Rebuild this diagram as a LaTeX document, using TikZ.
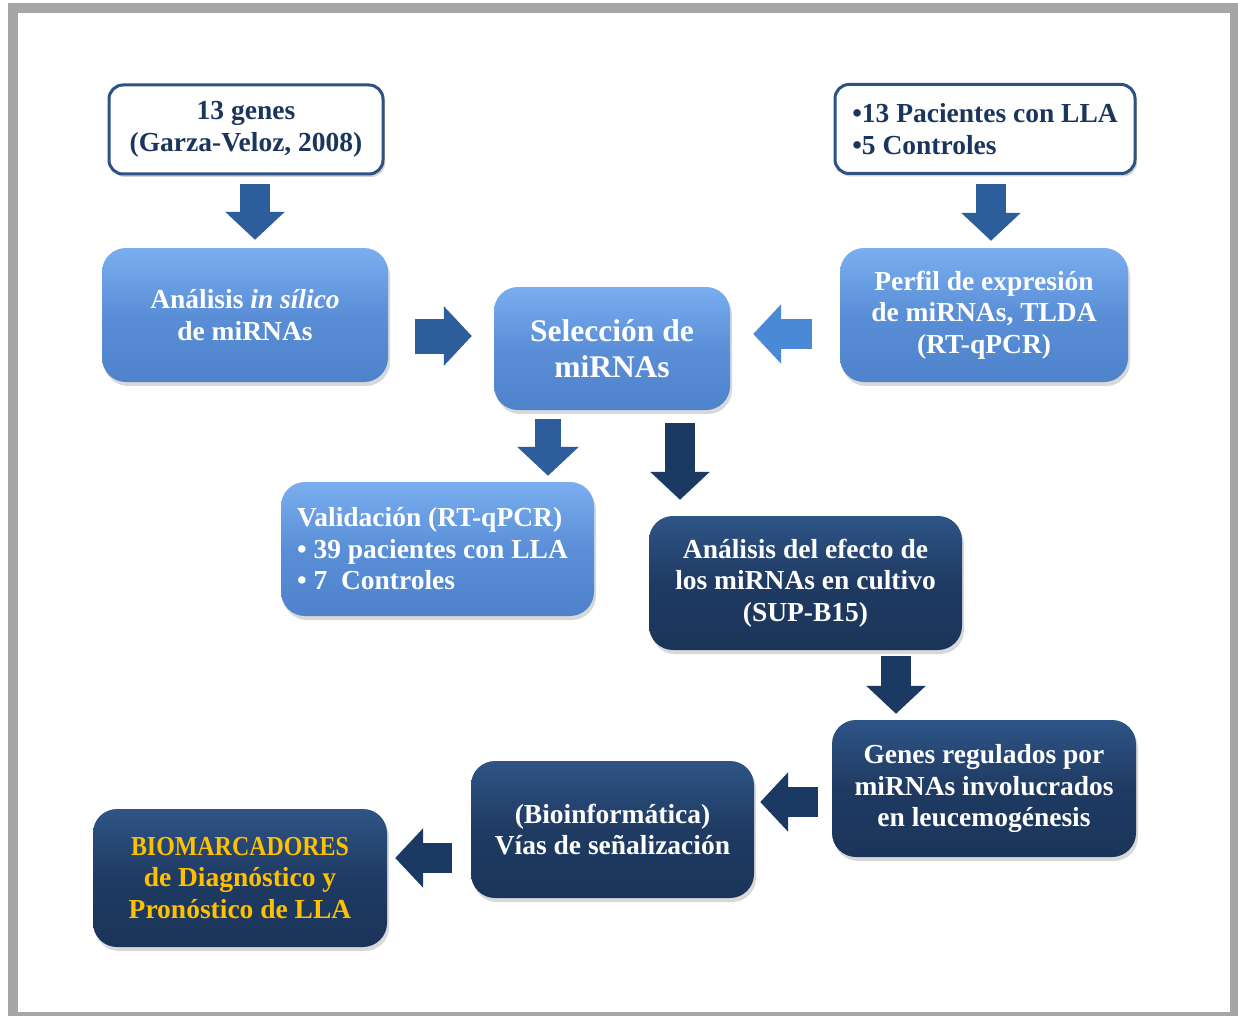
\documentclass[tikz,border=0pt]{standalone}
\usepackage{fontspec}
\setmainfont{Liberation Serif}
\usetikzlibrary{shadows,arrows.meta,calc}
\definecolor{framegray}{HTML}{A6A6A6}
\definecolor{navytext}{HTML}{1B365D}
\definecolor{rimblue}{HTML}{2E5283}
\definecolor{ltop}{HTML}{7AAEF0}
\definecolor{lmid}{HTML}{5A8FD7}
\definecolor{lbot}{HTML}{4E83CC}
\definecolor{dtop}{HTML}{2E5486}
\definecolor{dmid}{HTML}{1F3B63}
\definecolor{dbot}{HTML}{1B3459}
\definecolor{arrmid}{HTML}{2D5E9B}
\definecolor{arrlight}{HTML}{4A89D6}
\definecolor{arrdark}{HTML}{1B3A63}
\definecolor{gold}{HTML}{FFC000}
\tikzset{
  txt/.style={font=\bfseries\fontsize{27.5}{31.5}\selectfont, align=center},
  whitebox/.style={txt, draw=rimblue, line width=3pt, fill=white, rounded corners=14pt,
    text=navytext, drop shadow={shadow xshift=2pt, shadow yshift=-3pt, opacity=0.35}},
  lightbox/.style={txt, rounded corners=24pt, top color=ltop, bottom color=lbot, middle color=lmid,
    text=white, drop shadow={shadow xshift=2pt, shadow yshift=-4pt, opacity=0.3}},
  darkbox/.style={txt, rounded corners=24pt, top color=dtop, bottom color=dbot, middle color=dmid,
    text=white, drop shadow={shadow xshift=2pt, shadow yshift=-4pt, opacity=0.3}},
  barrow/.style={line width=30pt, -{Triangle[length=28pt,width=58pt]}},
}
\begin{document}
\begin{tikzpicture}[x=1pt,y=-1pt]
\useasboundingbox (0,0) rectangle (1238,1016);
\fill[framegray] (8,3) rectangle (1238,1016);
\fill[white] (18,13) rectangle (1230,1012);

\node[whitebox, minimum width=274pt, minimum height=89pt] (genes) at (246,129.5)
  {13 genes\\(Garza-Veloz, 2008)};
\node[whitebox, minimum width=300pt, minimum height=89pt, align=left] (pac) at (985,129)
  {\textbullet13 Pacientes con LLA\\\textbullet5 Controles};
\node[lightbox, minimum width=286pt, minimum height=134pt] (insilico) at (245,315)
  {Análisis \textit{in sílico}\\de miRNAs};
\node[lightbox, minimum width=236pt, minimum height=123pt, font=\bfseries\fontsize{31.5}{36}\selectfont] (sel) at (612,348.5)
  {Selección de\\miRNAs};
\node[lightbox, minimum width=288pt, minimum height=134pt] (perfil) at (984,315)
  {Perfil de expresión\\de miRNAs, TLDA\\(RT-qPCR)};
\node[lightbox, minimum width=313pt, minimum height=134pt, align=flush left, text width=281pt] (valid) at (437.5,549)
  {Validación\ (RT-qPCR)\\\textbullet\ 39 pacientes con LLA\\\textbullet\ 7\ \ Controles};
\node[darkbox, minimum width=313pt, minimum height=134pt] (efecto) at (805.5,583)
  {Análisis del efecto de\\los miRNAs en cultivo\\(SUP-B15)};
\node[darkbox, minimum width=304pt, minimum height=137pt] (regul) at (984,788.5)
  {Genes regulados por\\miRNAs involucrados\\en leucemogénesis};
\node[darkbox, minimum width=283pt, minimum height=137pt] (bioinf) at (612.5,829.5)
  {(Bioinformática)\\Vías de señalización};
\node[darkbox, minimum width=294pt, minimum height=138pt, text=gold] (biom) at (240,878)
  {\scalebox{0.87}[1]{BIOMARCADORES}\\de Diagnóstico y\\Pronóstico de LLA};

\draw[barrow, arrmid] ($(genes.south)+(9,9)$) -- ($(insilico.north)+(10,-8)$);
\draw[barrow, arrmid] ($(pac.south)+(6,9.5)$) -- ($(perfil.north)+(7,-7)$);
\draw[barrow, arrmid, line width=35pt] ($(insilico.east)+(27,21)$) -- ($(sel.west)+(-22,-12.5)$);
\draw[barrow, arrlight] ($(perfil.west)+(-28,19)$) -- ($(sel.east)+(23,-14.5)$);
\draw[arrmid, line width=26pt, -{Triangle[length=29pt,width=60pt]}] ($(sel.south)+(-64,9)$) -- ($(valid.north)+(110.5,-6)$);
\draw[barrow, arrdark] ($(sel.south)+(68,13)$) -- ($(efecto.north)+(-125.5,-16)$);
\draw[barrow, arrdark] ($(efecto.south)+(90.5,6)$) -- ($(regul.north)+(-88,-6)$);
\draw[barrow, arrdark] ($(regul.west)+(-14,13.5)$) -- ($(bioinf.east)+(6,-27.5)$);
\draw[barrow, arrdark] ($(bioinf.west)+(-19,28.5)$) -- ($(biom.east)+(8,-20)$);
\end{tikzpicture}
\end{document}
